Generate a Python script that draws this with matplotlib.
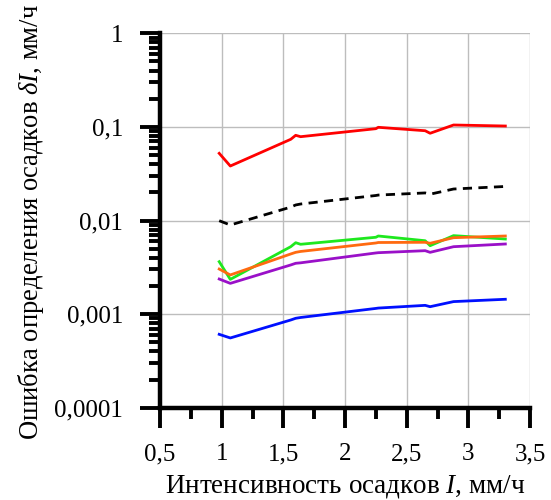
import matplotlib

matplotlib.use("Agg")
import matplotlib.pyplot as plt
from matplotlib.ticker import FixedLocator, FuncFormatter, LogLocator, NullFormatter

# rain intensity, mm/h
intensity = [0.98, 1.07, 1.56, 1.60, 1.64, 2.25, 2.27, 2.65, 2.69, 2.88, 3.30]

err_red = [0.0522, 0.0382, 0.0737, 0.0813, 0.0786, 0.0957, 0.0990, 0.0910, 0.0855, 0.1048, 0.1022]
err_black = [0.00995, 0.00895, 0.0139, 0.01465, 0.0150, 0.0185, 0.0187, 0.0197, 0.0191, 0.0217, 0.0231]
err_green = [0.00363, 0.00235, 0.00525, 0.00579, 0.00557, 0.00662, 0.00683, 0.00608, 0.00538, 0.00689, 0.00634]
err_orange = [0.00303, 0.00262, 0.00439, 0.00457, 0.00467, 0.00575, 0.00582, 0.00585, 0.00571, 0.00655, 0.00683]
err_purple = [0.00237, 0.00213, 0.00335, 0.00349, 0.00353, 0.00450, 0.00453, 0.00476, 0.00457, 0.00525, 0.00561]
err_blue = [0.000608, 0.000556, 0.000865, 0.000902, 0.000920, 0.00115, 0.00116, 0.00124, 0.00120, 0.00136, 0.00144]

x_ticks = [0.5, 1.0, 1.5, 2.0, 2.5, 3.0, 3.5]
y_ticks = [0.0001, 0.001, 0.01, 0.1, 1]
y_tick_labels = ["0,0001", "0,001", "0,01", "0,1", "1"]

plt.rcParams["font.family"] = ["Liberation Serif", "DejaVu Serif"]
plt.rcParams["mathtext.fontset"] = "custom"
plt.rcParams["mathtext.rm"] = "Liberation Serif"
plt.rcParams["mathtext.it"] = "Liberation Serif:italic"

fig = plt.figure(figsize=(5.51, 5.0), dpi=100)
ax = fig.add_axes([0.2904, 0.1846, 0.6715, 0.7488])

lw = 2.0
ax.plot(intensity, err_red, color="#ff0000", lw=lw)
ax.plot(intensity, err_black, color="black", lw=lw, linestyle=(0, (3.3, 2.3)))
ax.plot(intensity, err_green, color="#1ee81e", lw=lw)
ax.plot(intensity, err_orange, color="#ff6a10", lw=lw)
ax.plot(intensity, err_purple, color="#9a10c8", lw=lw)
ax.plot(intensity, err_blue, color="#0010ff", lw=lw)

ax.set_yscale("log")
ax.set_xlim(0.5, 3.5)
ax.set_ylim(0.0001, 1)

ax.xaxis.set_major_locator(FixedLocator(x_ticks))
ax.xaxis.set_minor_locator(FixedLocator([v + 0.25 for v in x_ticks[:-1]]))
ax.xaxis.set_major_formatter(FuncFormatter(lambda v, _: f"{v:g}".replace(".", ",")))
ax.yaxis.set_major_locator(FixedLocator(y_ticks))
ax.yaxis.set_major_formatter(FuncFormatter(lambda v, i: y_tick_labels[y_ticks.index(min(y_ticks, key=lambda t: abs(t - v)))]))
ax.yaxis.set_minor_locator(LogLocator(base=10, subs=range(2, 10)))
ax.yaxis.set_minor_formatter(NullFormatter())

ax.grid(True, which="major", color="#bdbdbd", lw=1.0)
ax.set_axisbelow(True)

for side in ("top", "right"):
    ax.spines[side].set_visible(False)
for side in ("left", "bottom"):
    ax.spines[side].set_linewidth(3.2)

ax.tick_params(which="major", direction="out", length=14.4, width=2.8, labelsize=18)
ax.tick_params(which="minor", direction="out", length=8, width=2.8)
ax.tick_params(axis="x", which="major", pad=11)
ax.tick_params(axis="y", which="major", pad=12)

ax.set_xlabel("Интенсивность осадков $I$, мм/ч", fontsize=19.5, labelpad=6)
ax.set_ylabel("Ошибка определения осадков $\\delta I$, мм/ч", fontsize=19.2)
ax.yaxis.set_label_coords(-0.309, 0.495)

fig.savefig("out.png", dpi=100)
